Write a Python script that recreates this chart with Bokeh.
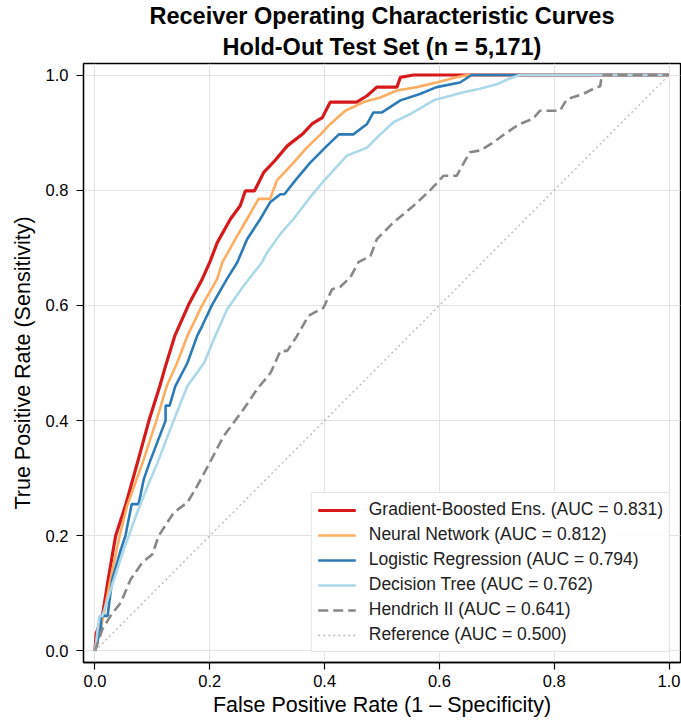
from bokeh.plotting import figure
from bokeh.models import Range1d, FixedTicker, PrintfTickFormatter, Title, Legend, LegendItem
from bokeh.embed import file_html
from bokeh.resources import INLINE

# ---- data ----
title_lines = ["Receiver Operating Characteristic Curves", "Hold-Out Test Set (n = 5,171)"]
x_label = "False Positive Rate (1 \u2013 Specificity)"
y_label = "True Positive Rate (Sensitivity)"
ticks = [0.0, 0.2, 0.4, 0.6, 0.8, 1.0]

gb_name = "Gradient-Boosted Ens. (AUC = 0.831)"
gb_fpr = [0, 0.002, 0.013, 0.023, 0.036, 0.053, 0.074, 0.094, 0.113, 0.123, 0.139, 0.163, 0.187, 0.2, 0.213,
          0.236, 0.253, 0.262, 0.278, 0.294, 0.314, 0.335, 0.361, 0.378, 0.396, 0.41, 0.456, 0.474, 0.491,
          0.526, 0.532, 0.555, 1.0]
gb_tpr = [0, 0.03, 0.061, 0.124, 0.2, 0.252, 0.327, 0.4, 0.46, 0.495, 0.547, 0.601, 0.646, 0.675, 0.709,
          0.75, 0.773, 0.799, 0.799, 0.831, 0.852, 0.877, 0.897, 0.915, 0.926, 0.953, 0.953, 0.964, 0.979,
          0.979, 0.996, 1.0, 1.0]

nn_name = "Neural Network (AUC = 0.812)"
nn_fpr = [0, 0.015, 0.027, 0.043, 0.056, 0.083, 0.107, 0.125, 0.143, 0.161, 0.187, 0.213, 0.222, 0.248, 0.265,
          0.285, 0.305, 0.317, 0.346, 0.369, 0.393, 0.41, 0.436, 0.468, 0.497, 0.526, 0.561, 0.595, 0.63,
          0.648, 1.0]
nn_tpr = [0, 0.061, 0.124, 0.2, 0.252, 0.327, 0.4, 0.46, 0.5, 0.547, 0.601, 0.646, 0.675, 0.721, 0.75,
          0.785, 0.785, 0.817, 0.848, 0.874, 0.897, 0.915, 0.938, 0.953, 0.961, 0.973, 0.979, 0.987, 0.996,
          1.0, 1.0]

lr_name = "Logistic Regression (AUC = 0.794)"
lr_fpr = [0, 0.01, 0.011, 0.022, 0.03, 0.045, 0.053, 0.064, 0.076, 0.085, 0.095, 0.123, 0.123, 0.13, 0.14,
          0.161, 0.178, 0.187, 0.204, 0.23, 0.248, 0.265, 0.288, 0.305, 0.323, 0.33, 0.349, 0.375, 0.404,
          0.425, 0.45, 0.474, 0.485, 0.5, 0.532, 0.566, 0.595, 0.636, 0.656, 1.0]
lr_tpr = [0, 0.04, 0.061, 0.061, 0.124, 0.176, 0.2, 0.255, 0.255, 0.298, 0.327, 0.4, 0.426, 0.426, 0.46,
          0.5, 0.547, 0.565, 0.601, 0.646, 0.675, 0.715, 0.75, 0.779, 0.793, 0.793, 0.817, 0.848, 0.877,
          0.897, 0.897, 0.915, 0.935, 0.935, 0.956, 0.967, 0.979, 0.987, 1.0, 1.0]

dt_name = "Decision Tree (AUC = 0.762)"
dt_fpr = [0, 0.005, 0.008, 0.013, 0.033, 0.05, 0.059, 0.071, 0.094, 0.109, 0.137, 0.161, 0.19, 0.207, 0.23,
          0.259, 0.291, 0.3, 0.323, 0.346, 0.375, 0.401, 0.439, 0.474, 0.497, 0.52, 0.549, 0.59, 0.642,
          0.671, 0.7, 0.72, 0.74, 1.0]
dt_tpr = [0, 0.04, 0.061, 0.061, 0.124, 0.176, 0.2, 0.234, 0.292, 0.327, 0.4, 0.46, 0.5, 0.541, 0.593,
          0.634, 0.675, 0.692, 0.724, 0.75, 0.788, 0.819, 0.86, 0.874, 0.897, 0.918, 0.932, 0.956, 0.97,
          0.976, 0.984, 0.993, 1.0, 1.0]

hd_name = "Hendrich II (AUC = 0.641)"
hd_fpr = [0, 0.013, 0.027, 0.045, 0.062, 0.082, 0.1, 0.111, 0.137, 0.161, 0.175, 0.2, 0.224, 0.259, 0.282,
          0.306, 0.323, 0.335, 0.352, 0.372, 0.398, 0.413, 0.427, 0.445, 0.459, 0.48, 0.491, 0.52, 0.555,
          0.584, 0.607, 0.63, 0.653, 0.671, 0.694, 0.717, 0.74, 0.763, 0.775, 0.81, 0.822, 0.85, 0.874,
          0.88, 0.883, 1.0]
hd_tpr = [0, 0.038, 0.061, 0.084, 0.124, 0.153, 0.168, 0.2, 0.24, 0.258, 0.281, 0.327, 0.373, 0.42, 0.454,
          0.483, 0.521, 0.521, 0.547, 0.582, 0.596, 0.628, 0.632, 0.649, 0.675, 0.686, 0.715, 0.744, 0.773,
          0.8, 0.825, 0.825, 0.866, 0.869, 0.883, 0.9, 0.915, 0.924, 0.938, 0.938, 0.958, 0.967, 0.979,
          0.98, 1.0, 1.0]

ref_name = "Reference (AUC = 0.500)"
ref_fpr = [0.0, 1.0]
ref_tpr = [0.0, 1.0]

FONT = "Liberation Sans"

p = figure(width=681, height=721, x_range=Range1d(-0.02, 1.02), y_range=Range1d(-0.02, 1.02),
           output_backend="svg", toolbar_location=None,
           min_border_left=83, min_border_right=1, min_border_top=63, min_border_bottom=59)
p.title.visible = False

t2 = Title(text=title_lines[1], align="center", text_font=FONT, text_font_size="23.5px",
           text_font_style="bold", text_color="black", standoff=8)
t1 = Title(text=title_lines[0], align="center", text_font=FONT, text_font_size="23.5px",
           text_font_style="bold", text_color="black", standoff=-3)
p.add_layout(t2, "above")
p.add_layout(t1, "above")

p.background_fill_color = "white"
p.outline_line_color = "black"
p.outline_line_width = 1.3
p.outline_line_alpha = 1.0

for ax in (p.xaxis, p.yaxis):
    ax.ticker = FixedTicker(ticks=ticks)
    ax.formatter = PrintfTickFormatter(format="%.1f")
    ax.major_label_text_font = FONT
    ax.major_label_text_font_size = "16.5px"
    ax.major_label_text_color = "black"
    ax.axis_label_text_font = FONT
    ax.axis_label_text_font_size = "21.5px"
    ax.axis_label_text_font_style = "normal"
    ax.axis_label_text_color = "black"
    ax.major_tick_out = 7
    ax.major_tick_in = 0
    ax.minor_tick_out = 0
    ax.minor_tick_in = 0
    ax.major_tick_line_color = "black"
    ax.major_tick_line_width = 1.2
    ax.axis_line_color = "black"
    ax.axis_line_width = 1.3

p.xaxis.major_label_standoff = 5
p.xaxis.axis_label_standoff = 3
p.yaxis.major_label_standoff = 8
p.yaxis.axis_label_standoff = 8
p.xaxis.axis_label = x_label
p.yaxis.axis_label = y_label

p.grid.grid_line_color = "#e3e3e3"
p.grid.grid_line_width = 1

r_gb = p.line(gb_fpr, gb_tpr, line_color="#d7191c", line_width=3.2)
r_nn = p.line(nn_fpr, nn_tpr, line_color="#fdae61", line_width=2.6)
r_lr = p.line(lr_fpr, lr_tpr, line_color="#2c7bb6", line_width=2.6)
r_dt = p.line(dt_fpr, dt_tpr, line_color="#abd9e9", line_width=2.6)
r_hd = p.line(hd_fpr, hd_tpr, line_color="#888888", line_width=2.6, line_dash="10 5")
r_ref = p.line(ref_fpr, ref_tpr, line_color="#b8b8b8", line_width=1.3, line_dash="2 3")

legend = Legend(items=[
    LegendItem(label=gb_name, renderers=[r_gb]),
    LegendItem(label=nn_name, renderers=[r_nn]),
    LegendItem(label=lr_name, renderers=[r_lr]),
    LegendItem(label=dt_name, renderers=[r_dt]),
    LegendItem(label=hd_name, renderers=[r_hd]),
    LegendItem(label=ref_name, renderers=[r_ref]),
], location="bottom_right")
legend.label_text_font = FONT
legend.label_text_font_size = "17.5px"
legend.label_text_color = "#222222"
legend.glyph_width = 38
legend.glyph_height = 20
legend.label_standoff = 13
legend.spacing = 4
legend.padding = 6
legend.margin = 10
legend.border_line_color = "#cccccc"
legend.border_line_width = 1.2
legend.background_fill_color = "white"
legend.background_fill_alpha = 0.9
p.add_layout(legend, "center")

open("out.html", "w").write(file_html(p, INLINE))
